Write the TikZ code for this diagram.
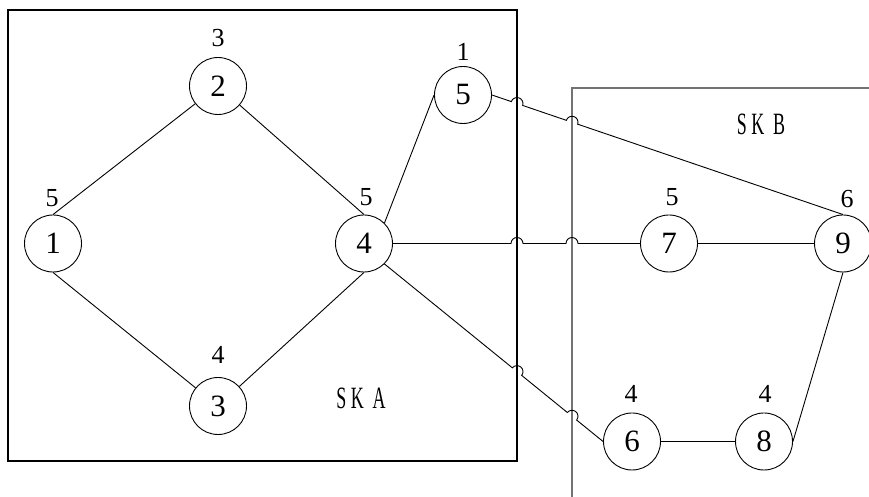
\documentclass[tikz,border=0pt]{standalone}
\usepackage{fontspec}
\setmainfont{Liberation Serif}
\usetikzlibrary{calc,intersections}
\begin{document}
\begin{tikzpicture}[x=1pt,y=1pt,
  vtx/.style={circle,draw,line width=0.9pt,minimum size=57pt,inner sep=0pt,font=\fontsize{31}{34}\selectfont},
  lbl/.style={font=\fontsize{26}{28}\selectfont,inner sep=0pt},
  conn/.style={line width=0.9pt},
  boxa/.style={line width=1.3pt,black},
  boxb/.style={line width=1.3pt,black!55},
  sk/.style={font=\fontsize{31}{33}\selectfont,inner sep=0pt}]
\def\jr{6pt}
\useasboundingbox (0,0) rectangle (869,497);
% frames
\draw[boxa] (8,36) rectangle (517,487);
\coordinate (bb1) at (572,-10);
\coordinate (bb2) at (572,409);
\coordinate (bb3) at (890,409);
\draw[boxb] (bb1) -- (bb2) -- (bb3);
\path[name path=vA] (517,-10) -- (517,510);
\path[name path=vB] (572,-10) -- (572,510);
% vertices
\node[vtx] (n1) at (53,253.5) {1};
\node[vtx] (n2) at (218,411) {2};
\node[vtx] (n3) at (218,91) {3};
\node[vtx] (n4) at (364,253.5) {4};
\node[vtx] (n5) at (463,402) {5};
\node[vtx] (n7) at (669,253.5) {7};
\node[vtx] (n9) at (843,253.5) {9};
\node[vtx] (n6) at (632,55.5) {6};
\node[vtx] (n8) at (764,55.5) {8};
% labels
\node[lbl] (l1) at (52,299) {5};
\node[lbl] (l2) at (218,459) {3};
\node[lbl] (l3) at (218,142) {4};
\node[lbl] (l4) at (366,300) {5};
\node[lbl] (l5) at (463,445) {1};
\node[lbl] (l7) at (672,300) {5};
\node[lbl] (l9) at (847,298) {6};
\node[lbl] (l6) at (631,103) {4};
\node[lbl] (l8) at (765,103) {4};
\node[sk] (ska) at (361,99) {\scalebox{0.58}[1]{S K~~A}};
\node[sk] (skb) at (761,373) {\scalebox{0.58}[1]{S K~~B}};
% plain connectors
\draw[conn] (n1.north) -- (n2);
\draw[conn] (n2) -- (n4.north);
\draw[conn] (n1.south) -- (n3);
\draw[conn] (n3) -- (n4.south);
\draw[conn] (n4.north east) -- (n5.west);
\draw[conn] (n7) -- (n9);
\draw[conn] (n6) -- (n8);
\draw[conn] (n9.south) -- (n8.east);
% connectors with jumps
\path[name path=c47] (n4.east) -- (n7.west);
\path[name intersections={of=c47 and vA, by=a47}];
\path[name intersections={of=c47 and vB, by=b47}];
\draw[conn] let \p1=($(n7.west)-(n4.east)$), \n1={atan2(\y1,\x1)} in
  (n4.east) -- ($(a47)!\jr!(n4.east)$) arc[start angle=\n1+180, end angle=\n1, radius=\jr]
  -- ($(b47)!\jr!(n4.east)$) arc[start angle=\n1+180, end angle=\n1, radius=\jr]
  -- (n7.west);
\path[name path=c59] (n5.east) -- (n9.north);
\path[name intersections={of=c59 and vA, by=a59}];
\path[name intersections={of=c59 and vB, by=b59}];
\draw[conn] let \p1=($(n9.north)-(n5.east)$), \n1={atan2(\y1,\x1)} in
  (n5.east) -- ($(a59)!\jr!(n5.east)$) arc[start angle=\n1+180, end angle=\n1, radius=\jr]
  -- ($(b59)!\jr!(n5.east)$) arc[start angle=\n1+180, end angle=\n1, radius=\jr]
  -- (n9.north);
\path[name path=c46] (n4.south east) -- (n6.west);
\path[name intersections={of=c46 and vA, by=a46}];
\path[name intersections={of=c46 and vB, by=b46}];
\draw[conn] let \p1=($(n6.west)-(n4.south east)$), \n1={atan2(\y1,\x1)} in
  (n4.south east) -- ($(a46)!\jr!(n4.south east)$) arc[start angle=\n1+180, end angle=\n1, radius=\jr]
  -- ($(b46)!\jr!(n4.south east)$) arc[start angle=\n1+180, end angle=\n1, radius=\jr]
  -- (n6.west);
\end{tikzpicture}
\end{document}
